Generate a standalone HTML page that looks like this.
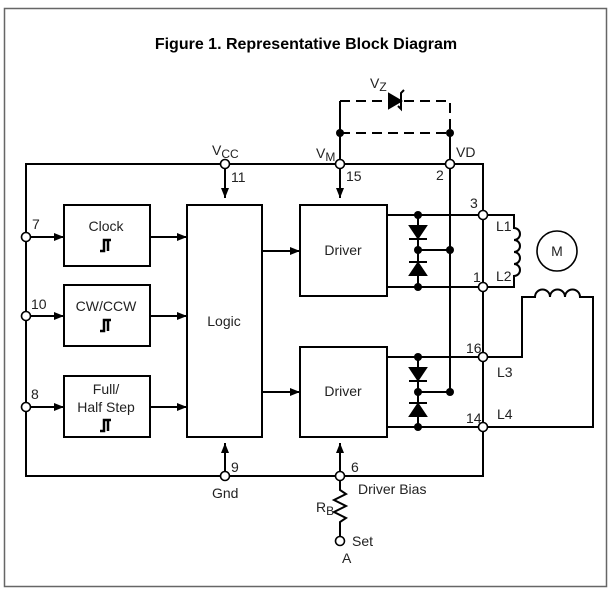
<!DOCTYPE html>
<html><head><style>
body{margin:0;background:#fff;width:613px;height:591px;overflow:hidden}
svg{display:block}
text{font-family:"Liberation Sans",Arial,sans-serif;font-size:14px;fill:#222}
</style></head><body>
<svg width="613" height="591" viewBox="0 0 613 591" xmlns="http://www.w3.org/2000/svg">
<defs>
<marker id="ar" markerWidth="10" markerHeight="8" refX="10" refY="4" orient="auto" markerUnits="userSpaceOnUse"><path d="M0,0 L10,4 L0,8 Z" fill="#000"/></marker>
</defs>
<rect x="4.5" y="8.5" width="602" height="578" fill="none" stroke="#666" stroke-width="1.5"/>
<text x="306" y="49" text-anchor="middle" style="font-size:16px;font-weight:bold;fill:#000">Figure 1. Representative Block Diagram</text>
<g stroke="#000" stroke-width="2" fill="none">
<path d="M26,164 H483 V476 H26 Z"/>
<rect x="64" y="205" width="86" height="61"/>
<rect x="64" y="285" width="86" height="61"/>
<rect x="64" y="376" width="86" height="61"/>
<rect x="187" y="205" width="75" height="232"/>
<rect x="300" y="205" width="87" height="91"/>
<rect x="300" y="347" width="87" height="90"/>
<line x1="26" y1="237" x2="64" y2="237" marker-end="url(#ar)"/>
<line x1="26" y1="316" x2="64" y2="316" marker-end="url(#ar)"/>
<line x1="26" y1="407" x2="64" y2="407" marker-end="url(#ar)"/>
<line x1="150" y1="237" x2="187" y2="237" marker-end="url(#ar)"/>
<line x1="150" y1="316" x2="187" y2="316" marker-end="url(#ar)"/>
<line x1="150" y1="407" x2="187" y2="407" marker-end="url(#ar)"/>
<line x1="262" y1="251" x2="300" y2="251" marker-end="url(#ar)"/>
<line x1="262" y1="392" x2="300" y2="392" marker-end="url(#ar)"/>
<line x1="225" y1="164" x2="225" y2="198" marker-end="url(#ar)"/>
<line x1="225" y1="476" x2="225" y2="443" marker-end="url(#ar)"/>
<line x1="340" y1="164" x2="340" y2="198" marker-end="url(#ar)"/>
<line x1="340" y1="476" x2="340" y2="443" marker-end="url(#ar)"/>
<path d="M387,215 H483 M387,287 H483 M387,357 H483 M387,427 H483"/>
<path d="M418,215 V287 M418,357 V427 M418,250 H450 M418,392 H450"/>
<path d="M450,133 V392"/>
<path d="M340,101 V164"/>
<path d="M340,101 H450 V133" stroke-dasharray="10,6"/>
<path d="M340,133 H450" stroke-dasharray="10,6"/>
<path d="M483,215 H514 V228 a6,6 0 0 1 0,12 a6,6 0 0 1 0,12 a6,6 0 0 1 0,12 a6,6 0 0 1 0,12 V287 H483"/>
<circle cx="557" cy="251" r="20" stroke-width="1.6"/>
<path d="M483,357 H522 V297 H535 a7.5,7.5 0 0 1 15,0 a7.5,7.5 0 0 1 15,0 a7.5,7.5 0 0 1 15,0 H593 V427 H483"/>
<path d="M340,476 V490 l6,4 l-12,6 l12,6 l-12,6 l12,6 l-6,4 V536"/>
<circle cx="340" cy="541" r="4.5" fill="#fff" stroke-width="1.6"/>
</g>
<g fill="#000" stroke="#000" stroke-width="2">
<path d="M410,226 H426 L418,238 Z"/><line x1="409" y1="239" x2="427" y2="239"/>
<path d="M410,275 H426 L418,263 Z"/><line x1="409" y1="262" x2="427" y2="262"/>
<path d="M410,368 H426 L418,380 Z"/><line x1="409" y1="381" x2="427" y2="381"/>
<path d="M410,416 H426 L418,404 Z"/><line x1="409" y1="403" x2="427" y2="403"/>
<path d="M389,94 L389,108 L401,101 Z"/>
<path d="M398,106 L401,109 L401,93 L404,90" fill="none"/>
</g>
<g fill="#000">
<circle cx="418" cy="215" r="4"/><circle cx="418" cy="287" r="4"/><circle cx="418" cy="250" r="4"/><circle cx="450" cy="250" r="4"/>
<circle cx="418" cy="357" r="4"/><circle cx="418" cy="427" r="4"/><circle cx="418" cy="392" r="4"/><circle cx="450" cy="392" r="4"/>
<circle cx="340" cy="133" r="4"/><circle cx="450" cy="133" r="4"/>
</g>
<g fill="#fff" stroke="#000" stroke-width="1.6">
<circle cx="26" cy="237" r="4.5"/><circle cx="26" cy="316" r="4.5"/><circle cx="26" cy="407" r="4.5"/>
<circle cx="225" cy="164" r="4.5"/><circle cx="225" cy="476" r="4.5"/>
<circle cx="340" cy="164" r="4.5"/><circle cx="450" cy="164" r="4.5"/><circle cx="340" cy="476" r="4.5"/>
<circle cx="483" cy="215" r="4.5"/><circle cx="483" cy="287" r="4.5"/><circle cx="483" cy="357" r="4.5"/><circle cx="483" cy="427" r="4.5"/>
</g>
<text x="106" y="231" text-anchor="middle">Clock</text>
<text x="106" y="311" text-anchor="middle">CW/CCW</text>
<text x="106" y="394" text-anchor="middle">Full/</text>
<text x="106" y="412" text-anchor="middle">Half Step</text>
<g stroke="#000" stroke-width="2.5" fill="none">
<path d="M100,251 H104 V240 H111 M108,240 V251"/>
<path d="M100,331 H104 V320 H111 M108,320 V331"/>
<path d="M100,431 H104 V420 H111 M108,420 V431"/>
</g>
<text x="224" y="326" text-anchor="middle">Logic</text>
<text x="343" y="255" text-anchor="middle">Driver</text>
<text x="343" y="396" text-anchor="middle">Driver</text>
<text x="32" y="229">7</text>
<text x="31" y="309">10</text>
<text x="31" y="399">8</text>
<text x="212" y="155">V<tspan font-size="12" dy="3">CC</tspan></text>
<text x="231" y="182">11</text>
<text x="231" y="472">9</text>
<text x="212" y="498">Gnd</text>
<text x="316" y="158">V<tspan font-size="12" dy="3">M</tspan></text>
<text x="346" y="181">15</text>
<text x="436" y="180">2</text>
<text x="456" y="157">VD</text>
<text x="370" y="88">V<tspan font-size="12" dy="3">Z</tspan></text>
<text x="470" y="208">3</text>
<text x="473" y="282">1</text>
<text x="466" y="353">16</text>
<text x="466" y="423">14</text>
<text x="496" y="231">L1</text>
<text x="496" y="281">L2</text>
<text x="497" y="377">L3</text>
<text x="497" y="419">L4</text>
<text x="557" y="256" text-anchor="middle">M</text>
<text x="351" y="472">6</text>
<text x="358" y="494">Driver Bias</text>
<text x="316" y="512">R<tspan font-size="12" dy="3">B</tspan></text>
<text x="352" y="546">Set</text>
<text x="342" y="563">A</text>
</svg>
</body></html>
